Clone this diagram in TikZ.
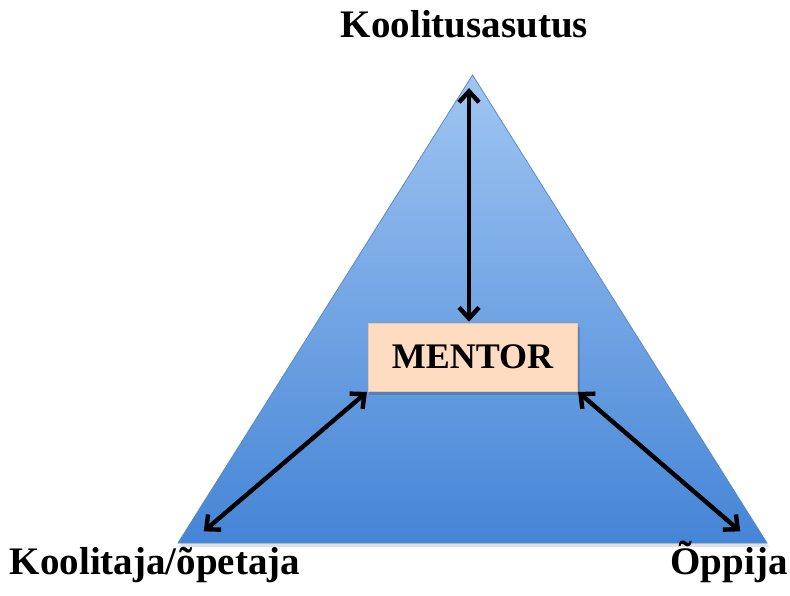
\documentclass[tikz,border=0pt]{standalone}
\usepackage{fontspec}
\setmainfont{Liberation Serif}
\usetikzlibrary{arrows.meta}
\definecolor{triTop}{HTML}{A0C5F2}
\definecolor{triBot}{HTML}{4585D6}
\definecolor{triEdge}{HTML}{5A8BC8}
\definecolor{peach}{HTML}{FDDCC1}
\definecolor{peachEdge}{HTML}{E8C4A4}
\tikzset{
  lbl/.style={font=\fontsize{39}{41}\selectfont\bfseries, anchor=base, inner sep=0pt},
  arr/.style={line width=4.4pt, black, {Straight Barb[length=11pt,width=20pt,line width=4.4pt]}-{Straight Barb[length=11pt,width=20pt,line width=4.4pt]}, shorten <=1pt, shorten >=1pt},
  mentorbox/.style={draw=peachEdge, line width=0.6pt, fill=peach, minimum width=209pt, minimum height=68pt, inner sep=0pt, font=\fontsize{36}{38}\selectfont\bfseries}
}
\begin{document}
\begin{tikzpicture}[x=1pt,y=-1pt]
\useasboundingbox (0,0) rectangle (790,596);
\fill[white] (0,0) rectangle (790,596);
\coordinate (apex) at (472.5,75);
\coordinate (bl) at (178,543);
\coordinate (br) at (767,543);
% shadow
\fill[black,opacity=0.12] ([shift={(2,4)}]apex) -- ([shift={(1,4)}]bl) -- ([shift={(2,4)}]br) -- cycle;
% triangle
\shade[top color=triTop, bottom color=triBot] (apex) -- (bl) -- (br) -- cycle;
\draw[triEdge, line width=0.8pt] (apex) -- (bl) -- (br) -- cycle;
% mentor box
\fill[black,opacity=0.15] (369,327) rectangle (580,395);
\node[mentorbox] (mentor) at (472.5,357) {MENTOR};
% arrow end points
\coordinate (ctop) at (469,87);
\coordinate (cbl) at (203,532);
\coordinate (cbr) at (741,532);
\draw[arr] (ctop) -- (mentor.north -| ctop);
\draw[arr] (mentor.south west) -- (cbl);
\draw[arr] (mentor.south east) -- (cbr);
% labels
\node[lbl] (t1) at (464.5,38) {Koolitusasutus};
\node[lbl] (t2) at (155,574) {Koolitaja/õpetaja};
\node[lbl] (t3) at (729,574) {Õppija};
\end{tikzpicture}
\end{document}
